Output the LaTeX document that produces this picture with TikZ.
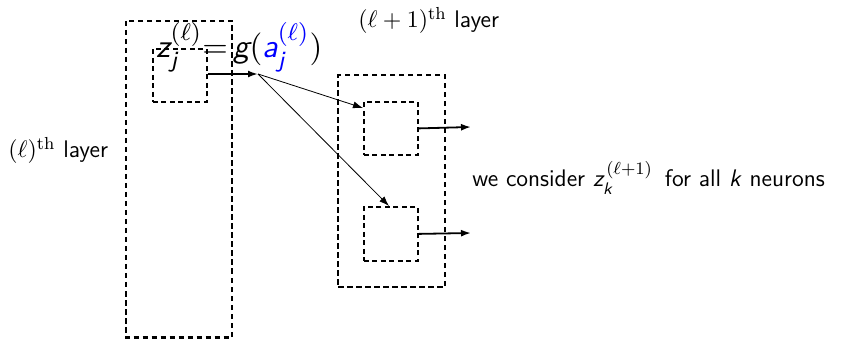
\documentclass[tikz,border=0pt]{standalone}
\usepackage{amsmath}
\usetikzlibrary{arrows.meta}
\newcommand{\sfi}[1]{\textsf{\itshape #1}}
\begin{document}
\begin{tikzpicture}[x=1pt,y=-1pt,
  outerbox/.style={draw,line width=2.3pt,dash pattern=on 5.5pt off 3.5pt},
  innerbox/.style={draw,line width=1.8pt,dash pattern=on 5pt off 3.5pt},
  arr/.style={-{Latex[length=10pt,width=7pt]}},
  lbl/.style={font=\sffamily\fontsize{11}{13}\selectfont,inner sep=0pt,scale=2.18}]
\useasboundingbox (0,0) rectangle (841,339);
\draw[outerbox] (126,21) rectangle (232,337.5);
\node[innerbox,minimum width=54pt,minimum height=53pt,inner sep=0pt,anchor=north west] (zj) at (152,48) {};
\node[outerbox,minimum width=107pt,minimum height=212pt,inner sep=0pt,anchor=north west] (L2) at (337,74) {};
\node[innerbox,minimum width=54pt,minimum height=53pt,inner sep=0pt,anchor=north west] (k1) at (363,101) {};
\node[innerbox,minimum width=54pt,minimum height=54pt,inner sep=0pt,anchor=north west] (k2) at (363,206) {};
\coordinate (g) at (258,74);
\coordinate (o1) at (471,127);
\coordinate (o2) at (471,233);
\draw[arr,line width=2.2pt] (zj.east |- g) -- (g);
\draw[arr,line width=0.8pt] (g) -- ([yshift=-7pt]k1.north west);
\draw[arr,line width=0.8pt] (g) -- ([xshift=26pt]k2.north west);
\draw[arr,line width=1.8pt] (k1.east) -- (o1);
\draw[arr,line width=1.8pt] (k2.east) -- (o2);
\node[lbl,scale=1.376,anchor=base west] (eq) at (156,58)
  {$\sfi{z}_{\sfi{j}}^{(\ell)} \mkern-5mu = \mkern-2mu \sfi{g}(\textcolor{blue}{\sfi{a}_{\sfi{j}}^{(\ell)}})$};
\node[lbl,anchor=base west] (t2) at (358,28) {$(\ell+1)^{\mathrm{th}}$ layer};
\node[lbl,anchor=base west] (t1) at (8,158) {$(\ell)^{\mathrm{th}}$ layer};
\node[lbl,anchor=base west] (t3) at (472,187) {we consider $\sfi{z}_{\sfi{k}}^{\mkern3mu(\ell+1)}$\, for all \sfi{k} neurons};
\end{tikzpicture}
\end{document}
